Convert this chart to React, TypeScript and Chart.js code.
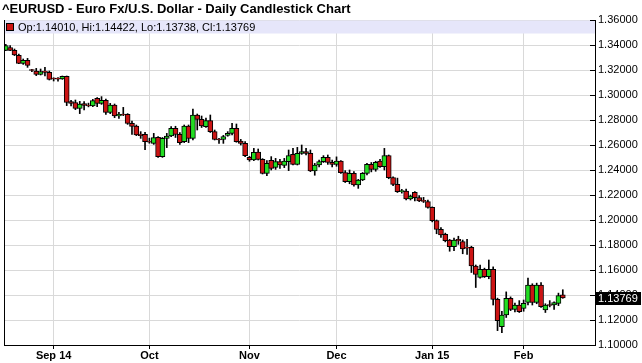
import React, { useEffect, useRef } from 'react';
import { Chart, registerables } from 'chart.js';

Chart.register(...registerables);

const title = '^EURUSD - Euro Fx/U.S. Dollar - Daily Candlestick Chart';

const dates = [
  '2014-08-15','2014-08-18','2014-08-19','2014-08-20','2014-08-21','2014-08-22','2014-08-25','2014-08-26','2014-08-27','2014-08-28','2014-08-29',
  '2014-09-01','2014-09-02','2014-09-03','2014-09-04','2014-09-05','2014-09-08','2014-09-09','2014-09-10','2014-09-11','2014-09-12',
  '2014-09-15','2014-09-16','2014-09-17','2014-09-18','2014-09-19','2014-09-22','2014-09-23','2014-09-24','2014-09-25','2014-09-26','2014-09-29','2014-09-30',
  '2014-10-01','2014-10-02','2014-10-03','2014-10-06','2014-10-07','2014-10-08','2014-10-09','2014-10-10','2014-10-13','2014-10-14','2014-10-15','2014-10-16','2014-10-17',
  '2014-10-20','2014-10-21','2014-10-22','2014-10-23','2014-10-24','2014-10-27','2014-10-28','2014-10-29','2014-10-30','2014-10-31',
  '2014-11-03','2014-11-04','2014-11-05','2014-11-06','2014-11-07','2014-11-10','2014-11-11','2014-11-12','2014-11-13','2014-11-14',
  '2014-11-17','2014-11-18','2014-11-19','2014-11-20','2014-11-21','2014-11-24','2014-11-25','2014-11-26','2014-11-27','2014-11-28',
  '2014-12-01','2014-12-02','2014-12-03','2014-12-04','2014-12-05','2014-12-08','2014-12-09','2014-12-10','2014-12-11','2014-12-12',
  '2014-12-15','2014-12-16','2014-12-17','2014-12-18','2014-12-19','2014-12-22','2014-12-23','2014-12-24','2014-12-26','2014-12-29','2014-12-30','2014-12-31',
  '2015-01-02','2015-01-05','2015-01-06','2015-01-07','2015-01-08','2015-01-09','2015-01-12','2015-01-13','2015-01-14','2015-01-15','2015-01-16',
  '2015-01-19','2015-01-20','2015-01-21','2015-01-22','2015-01-23','2015-01-26','2015-01-27','2015-01-28','2015-01-29','2015-01-30',
  '2015-02-02','2015-02-03','2015-02-04','2015-02-05','2015-02-06','2015-02-09','2015-02-10','2015-02-11','2015-02-12','2015-02-13',
];

const opens = [
  1.3357,1.3380,1.3357,1.3317,1.3253,1.3277,1.3200,1.3192,1.3165,1.3192,1.3181,
  1.3131,1.3130,1.3128,1.3149,1.2947,1.2939,1.2893,1.2931,1.2917,1.2913,
  1.2973,1.2933,1.2957,1.2861,1.2920,1.2832,1.2845,1.2845,1.2773,1.2752,1.2688,1.2685,
  1.2630,1.2613,1.2661,1.2507,1.2653,1.2672,1.2733,1.2685,1.2627,1.2752,1.2653,1.2840,1.2805,
  1.2747,1.2795,1.2707,1.2645,1.2645,1.2677,1.2693,1.2733,1.2632,1.2613,
  1.2501,1.2480,1.2544,1.2485,1.2373,1.2478,1.2421,1.2467,1.2437,1.2467,
  1.2525,1.2445,1.2533,1.2547,1.2533,1.2392,1.2440,1.2467,1.2501,1.2461,
  1.2445,1.2472,1.2379,1.2307,1.2373,1.2280,1.2320,1.2373,1.2445,1.2405,
  1.2472,1.2427,1.2515,1.2339,1.2285,1.2227,1.2232,1.2168,1.2221,1.2179,1.2152,1.2147,
  1.2101,1.1995,1.1925,1.1885,1.1840,1.1787,1.1845,1.1827,1.1780,1.1781,1.1632,
  1.1541,1.1605,1.1547,1.1605,1.1365,1.1147,1.1240,1.1373,1.1285,1.1320,
  1.1293,1.1341,1.1480,1.1341,1.1480,1.1280,1.1320,1.1320,1.1333,1.14010,
];

const highs = [
  1.3405,1.3395,1.3368,1.3328,1.3288,1.3293,1.3205,1.3213,1.3208,1.3221,1.3192,
  1.3138,1.3139,1.3152,1.3152,1.2957,1.2960,1.2949,1.2947,1.2935,1.2965,
  1.2979,1.2987,1.2968,1.2933,1.2928,1.2861,1.2901,1.2851,1.2792,1.2760,1.2707,1.2701,
  1.2655,1.2693,1.2668,1.2660,1.2693,1.2747,1.2750,1.2699,1.2760,1.2760,1.2888,1.2848,1.2832,
  1.2815,1.2840,1.2720,1.2653,1.2677,1.2707,1.2773,1.2768,1.2645,1.2627,
  1.2509,1.2573,1.2568,1.2491,1.2475,1.2507,1.2493,1.2485,1.2493,1.2560,
  1.2573,1.2581,1.2600,1.2573,1.2560,1.2453,1.2480,1.2515,1.2520,1.2480,
  1.2505,1.2475,1.2395,1.2400,1.2387,1.2325,1.2380,1.2453,1.2460,1.2470,
  1.2485,1.2573,1.2520,1.2345,1.2335,1.2245,1.2248,1.2200,1.2227,1.2195,1.2181,1.2160,
  1.2105,1.2000,1.1940,1.1895,1.1845,1.1855,1.1870,1.1840,1.1845,1.1790,1.1640,
  1.1640,1.1615,1.1680,1.1625,1.1375,1.1270,1.1425,1.1385,1.1335,1.1355,
  1.1360,1.1535,1.1490,1.1495,1.1500,1.1330,1.1355,1.1345,1.1415,1.14422,
];

const lows = [
  1.3355,1.3355,1.3315,1.3251,1.3245,1.3221,1.3187,1.3155,1.3160,1.3152,1.3120,
  1.3112,1.3110,1.3125,1.2915,1.2912,1.2883,1.2851,1.2880,1.2905,1.2907,
  1.2907,1.2925,1.2845,1.2851,1.2819,1.2813,1.2835,1.2765,1.2685,1.2675,1.2653,1.2563,
  1.2614,1.2605,1.2500,1.2501,1.2579,1.2667,1.2660,1.2605,1.2619,1.2619,1.2640,1.2720,1.2740,
  1.2740,1.2700,1.2640,1.2613,1.2613,1.2670,1.2680,1.2622,1.2600,1.2507,
  1.2470,1.2475,1.2480,1.2368,1.2355,1.2400,1.2405,1.2413,1.2419,1.2395,
  1.2440,1.2440,1.2525,1.2520,1.2387,1.2358,1.2425,1.2460,1.2445,1.2425,
  1.2430,1.2372,1.2300,1.2290,1.2270,1.2253,1.2315,1.2360,1.2385,1.2390,
  1.2420,1.2400,1.2330,1.2275,1.2220,1.2215,1.2160,1.2160,1.2152,1.2147,1.2140,1.2095,
  1.1985,1.1890,1.1860,1.1825,1.1750,1.1755,1.1805,1.1730,1.1725,1.1580,1.1460,
  1.1535,1.1540,1.1530,1.1320,1.1115,1.1098,1.1220,1.1275,1.1265,1.1260,
  1.1270,1.1320,1.1320,1.1330,1.1300,1.1260,1.1305,1.1285,1.1315,1.13738,
];

const closes = [
  1.3395,1.3357,1.3320,1.3253,1.3277,1.3237,1.3196,1.3165,1.3187,1.3181,1.3125,
  1.3128,1.3127,1.3149,1.2941,1.2933,1.2893,1.2928,1.2917,1.2912,1.2955,
  1.2933,1.2957,1.2861,1.2920,1.2832,1.2845,1.2840,1.2773,1.2749,1.2680,1.2675,1.2627,
  1.2622,1.2659,1.2507,1.2653,1.2672,1.2733,1.2685,1.2619,1.2752,1.2653,1.2840,1.2805,1.2752,
  1.2795,1.2707,1.2645,1.2640,1.2667,1.2693,1.2733,1.2627,1.2613,1.2515,
  1.2480,1.2541,1.2485,1.2373,1.2453,1.2413,1.2467,1.2440,1.2472,1.2515,
  1.2445,1.2533,1.2547,1.2533,1.2392,1.2440,1.2467,1.2501,1.2461,1.2445,
  1.2472,1.2379,1.2307,1.2373,1.2280,1.2320,1.2373,1.2445,1.2405,1.2461,
  1.2427,1.2515,1.2339,1.2285,1.2227,1.2232,1.2168,1.2192,1.2179,1.2152,1.2149,1.2101,
  1.1995,1.1925,1.1880,1.1835,1.1787,1.1840,1.1832,1.1768,1.1775,1.1632,1.1565,
  1.1605,1.1547,1.1605,1.1365,1.1195,1.1240,1.1373,1.1285,1.1320,1.1267,
  1.1333,1.1480,1.1341,1.1480,1.1307,1.1320,1.1316,1.1339,1.1395,1.13769,
];

const tickDates = ['2014-09-01', '2014-10-01', '2014-11-03', '2014-12-01', '2015-01-02', '2015-02-02'];
const tickLabels = ['Sep 14', 'Oct', 'Nov', 'Dec', 'Jan 15', 'Feb'];

const yMin = 1.1;
const yMax = 1.36;
const yStep = 0.02;

const FONT = '"Liberation Sans", Arial, Helvetica, sans-serif';
const UP = '#22dd22';
const DOWN = '#cc1414';
const GRID = '#d9d9d9';
const BAND = '#e6e6fa';

const last = closes.length - 1;
const legendText = `Op:${opens[last].toFixed(5)}, Hi:${highs[last].toFixed(5)}, Lo:${lows[last].toFixed(5)}, Cl:${closes[last].toFixed(5)}`;
const tickIdx = tickDates.map((d) => dates.indexOf(d));

const decor = {
  id: 'decor',
  beforeDatasetsDraw(chart: any) {
    const { ctx, chartArea: a } = chart;
    ctx.save();
    ctx.fillStyle = BAND;
    ctx.fillRect(a.left + 1, a.top + 0.5, a.right - a.left - 1, 13);
    const cy = a.top + 7;
    ctx.fillStyle = DOWN;
    ctx.fillRect(6, cy - 4, 8, 8);
    ctx.strokeStyle = '#000';
    ctx.lineWidth = 1;
    ctx.strokeRect(6.5, cy - 3.5, 7, 7);
    ctx.fillStyle = '#000';
    ctx.font = `11px ${FONT}`;
    ctx.textBaseline = 'middle';
    ctx.textAlign = 'left';
    ctx.fillText(legendText, 18, cy + 0.5);
    ctx.restore();
  },
  afterDraw(chart: any) {
    const { ctx, chartArea: a, scales } = chart;
    ctx.save();
    ctx.fillStyle = '#000';
    ctx.font = `bold 13px ${FONT}`;
    ctx.textBaseline = 'middle';
    ctx.textAlign = 'left';
    ctx.fillText(title, 2, 9);
    ctx.strokeStyle = '#000';
    ctx.lineWidth = 1;
    ctx.beginPath();
    ctx.moveTo(a.left + 0.5, a.top);
    ctx.lineTo(a.left + 0.5, a.bottom);
    ctx.stroke();
    const ys = scales.y;
    ctx.beginPath();
    ys.ticks.forEach((t: any) => {
      const py = Math.round(ys.getPixelForValue(t.value)) + 0.5;
      ctx.moveTo(a.right - 5, py);
      ctx.lineTo(a.right, py);
    });
    ctx.stroke();
    const py = ys.getPixelForValue(closes[last]);
    ctx.fillStyle = '#000';
    ctx.fillRect(a.right + 1, Math.round(py) - 6, 642 - a.right - 2, 13);
    ctx.fillStyle = '#fff';
    ctx.font = `11px ${FONT}`;
    ctx.fillText(closes[last].toFixed(5), a.right + 3, Math.round(py) + 0.5);
    ctx.restore();
  },
};

export default function App() {
  const ref = useRef<HTMLCanvasElement>(null);

  useEffect(() => {
    if (!ref.current) return;
    const bodies = dates.map((_, i) => ({ x: i, y: [opens[i], closes[i]] }));
    const wicks = dates.map((_, i) => ({ x: i, y: [lows[i], highs[i]] }));
    const colors = dates.map((_, i) => (closes[i] >= opens[i] ? UP : DOWN));

    const chart = new Chart(ref.current, {
      type: 'bar',
      data: {
        datasets: [
          {
            label: 'wick',
            data: wicks as any,
            backgroundColor: '#000',
            borderWidth: 0,
            barThickness: 1,
            grouped: false,
            order: 2,
          } as any,
          {
            label: 'body',
            data: bodies as any,
            backgroundColor: colors,
            borderColor: '#000',
            borderWidth: 1,
            borderSkipped: false,
            barThickness: 5,
            minBarLength: 1,
            grouped: false,
            order: 1,
          } as any,
        ],
      },
      plugins: [decor],
      options: {
        animation: false,
        responsive: true,
        maintainAspectRatio: false,
        events: [],
        layout: { padding: { left: 4, top: 20, right: 0, bottom: 0 } },
        plugins: {
          legend: { display: false },
          tooltip: { enabled: false },
          title: { display: false },
        },
        scales: {
          x: {
            type: 'linear',
            offset: false,
            min: -0.41,
            max: 135.4,
            afterBuildTicks: (scale: any) => {
              scale.ticks = tickIdx.map((v) => ({ value: v }));
            },
            afterFit: (scale: any) => {
              scale.height = 18;
            },
            ticks: {
              autoSkip: false,
              maxRotation: 0,
              padding: 0,
              color: '#000',
              font: { family: FONT, size: 11, weight: 'bold' },
              callback: (_v: any, i: number) => tickLabels[i],
            },
            grid: { color: GRID, tickColor: '#000', tickLength: 4, offset: false },
            border: { color: '#000' },
          },
          y: {
            position: 'right',
            min: yMin,
            max: yMax,
            afterFit: (scale: any) => {
              scale.width = 47;
            },
            ticks: {
              stepSize: yStep,
              padding: 3,
              color: '#000',
              font: { family: FONT, size: 11 },
              callback: (v: any) => Number(v).toFixed(5),
            },
            grid: { color: GRID, drawTicks: false },
            border: { color: '#000' },
          },
        },
      } as any,
    });
    return () => chart.destroy();
  }, []);

  return (
    <div style={{ position: 'absolute', left: 0, top: 0, width: 642, height: 363, background: '#fff' }}>
      <canvas ref={ref} />
    </div>
  );
}
